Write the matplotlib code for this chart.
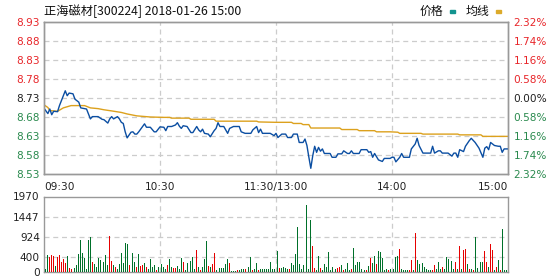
import matplotlib
matplotlib.use('Agg')
import matplotlib.pyplot as plt
from matplotlib.patches import Rectangle
import numpy as np

plt.rcParams['font.family'] = ['DejaVu Sans']

title_text = "正海磁材[300224] 2018-01-26 15:00"
legend_labels = ["价格", "均线"]
prev_close = 8.73
price_ticks = [8.53, 8.58, 8.63, 8.68, 8.73, 8.78, 8.83, 8.88, 8.93]
pct_labels = ["2.32%", "1.74%", "1.16%", "0.58%", "0.00%", "0.58%", "1.16%", "1.74%", "2.32%"]
time_ticks = [0, 60, 120, 180, 240]
time_labels = ["09:30", "10:30", "11:30/13:00", "14:00", "15:00"]
vol_ticks = [0, 400, 924, 1447, 1970]

# minute index (0 = 09:30, 240 = 15:00) and price
price_t = [0, 2, 3, 4, 5, 7, 8, 10, 11, 12, 13, 15, 16, 18, 19, 22, 23, 24, 25, 28,
           30, 31, 33, 34, 35, 36, 38, 39, 40, 41, 42, 43, 45, 46, 47, 48, 49, 50, 52, 53,
           55, 57, 58, 60, 62, 63, 64, 66, 68, 69, 70, 71, 72, 74, 76, 77, 79, 80, 81, 82,
           83, 85, 86, 88, 89, 90, 91, 93, 94, 95, 96, 98, 101, 102, 104, 107, 108, 110, 111, 112,
           113, 115, 117, 119, 120, 121, 123, 125, 126, 128, 129, 131, 132, 134, 135, 136, 137, 138, 139, 140,
           141, 142, 143, 144, 145, 148, 149, 151, 152, 154, 155, 157, 158, 159, 160, 163, 164, 167, 168, 169,
           170, 171, 173, 175, 176, 179, 180, 181, 182, 184, 185, 186, 189, 190, 192, 193, 194, 196, 200, 201,
           202, 204, 205, 206, 209, 211, 212, 213, 214, 215, 217, 218, 220, 221, 223, 225, 227, 228, 229, 230,
           231, 233, 235, 236, 237, 238, 240]
price_v = [8.703, 8.689, 8.701, 8.686, 8.695, 8.694, 8.710, 8.736, 8.749, 8.736, 8.743, 8.741, 8.727, 8.719, 8.704, 8.701, 8.688, 8.675, 8.681, 8.681,
           8.674, 8.673, 8.664, 8.675, 8.681, 8.675, 8.681, 8.675, 8.666, 8.663, 8.641, 8.625, 8.640, 8.641, 8.635, 8.635, 8.641, 8.648, 8.662, 8.653,
           8.653, 8.641, 8.641, 8.654, 8.653, 8.644, 8.655, 8.655, 8.659, 8.665, 8.656, 8.650, 8.657, 8.655, 8.639, 8.639, 8.655, 8.646, 8.641, 8.648,
           8.637, 8.635, 8.628, 8.644, 8.650, 8.665, 8.655, 8.655, 8.646, 8.637, 8.650, 8.655, 8.655, 8.641, 8.637, 8.637, 8.646, 8.655, 8.639, 8.648,
           8.637, 8.637, 8.637, 8.631, 8.637, 8.626, 8.635, 8.635, 8.626, 8.626, 8.635, 8.635, 8.613, 8.613, 8.622, 8.605, 8.574, 8.545, 8.578, 8.603,
           8.587, 8.600, 8.590, 8.596, 8.584, 8.584, 8.574, 8.574, 8.583, 8.583, 8.591, 8.584, 8.584, 8.591, 8.584, 8.584, 8.594, 8.594, 8.587, 8.589,
           8.574, 8.584, 8.567, 8.563, 8.571, 8.571, 8.574, 8.574, 8.562, 8.574, 8.584, 8.574, 8.574, 8.596, 8.609, 8.624, 8.605, 8.585, 8.585, 8.603,
           8.585, 8.591, 8.591, 8.585, 8.585, 8.577, 8.585, 8.585, 8.574, 8.594, 8.589, 8.603, 8.618, 8.624, 8.613, 8.598, 8.574, 8.598, 8.602, 8.594,
           8.613, 8.605, 8.603, 8.603, 8.587, 8.596, 8.596]

avg_t = [0, 2, 3, 7, 10, 14, 21, 24, 28, 31, 35, 40, 43, 48, 55, 62, 65, 66, 75, 76,
         88, 89, 110, 111, 120, 128, 129, 133, 134, 137, 138, 153, 154, 162, 163, 171, 172, 179, 183, 184,
         195, 196, 214, 215, 226, 227, 240]
avg_v = [8.712, 8.705, 8.697, 8.695, 8.704, 8.710, 8.710, 8.704, 8.702, 8.699, 8.696, 8.692, 8.688, 8.683, 8.680, 8.679, 8.679, 8.677, 8.677, 8.674,
         8.674, 8.669, 8.669, 8.667, 8.666, 8.666, 8.663, 8.663, 8.660, 8.660, 8.651, 8.651, 8.647, 8.647, 8.644, 8.644, 8.641, 8.641, 8.640, 8.637,
         8.637, 8.635, 8.635, 8.633, 8.633, 8.629, 8.629]

# per-minute volume (lots) and direction (r = up, g = down)
vol_am = [445, 78, 445, 401, 445, 427, 157, 384, 445, 270, 331, 227, 419, 113, 87, 209, 113, 183, 471, 837,
          506, 366, 87, 837, 907, 270, 209, 122, 366, 314, 288, 262, 445, 183, 942, 288, 192, 122, 70, 201,
          497, 227, 759, 732, 174, 279, 488, 270, 140, 471, 148, 183, 227, 140, 87, 331, 140, 183, 61, 140,
          166, 209, 140, 87, 183, 331, 140, 113, 96, 166, 87, 366, 262, 52, 244, 174, 279, 384, 87, 576,
          122, 61, 140, 340, 811, 157, 140, 209, 488, 52, 140, 113, 113, 96, 201, 331, 227, 35, 35, 35,
          61, 52, 87, 78, 70, 70, 140, 384, 44, 87, 244, 52, 87, 70, 70, 70, 87, 270, 70, 70,
          52, 549]
vol_pm = [106, 106, 124, 115, 88, 79, 230, 185, 477, 1183, 212, 88, 185, 442, 1748, 71, 1351, 689, 106, 53,
          424, 106, 53, 203, 141, 530, 53, 124, 168, 71, 106, 124, 185, 53, 88, 247, 53, 79, 636, 185,
          265, 265, 88, 71, 53, 53, 159, 371, 230, 424, 212, 556, 521, 353, 53, 88, 53, 88, 442, 79,
          389, 406, 600, 71, 53, 53, 53, 53, 318, 53, 1007, 318, 212, 177, 230, 141, 88, 53, 53, 53,
          177, 88, 265, 88, 124, 71, 389, 336, 88, 283, 71, 265, 71, 689, 88, 565, 600, 212, 88, 71,
          53, 918, 106, 653, 265, 265, 547, 265, 132, 742, 583, 53, 141, 318, 53, 1130, 53, 53, 1219]
dir_am = ("gggrrrgrrr" "rrgrrggggg" "gggggrgggg" "rgggrrgrgg" "ggggrgggrg" "rrgrggggrg"
          "ggggrggrrg" "ggrggggggr" "grgggrgrrg" "rgggggrggg" "rgggrrggrg" "grgggggggg" "gg")
dir_pm = ("rggggrgggg" "gggggggrrg" "grgggggggg" "rrgrgggrgg" "gggggrgrgg" "rgggggrggg"
          "ggrggggrrg" "rggggggggr" "rgggrgggrg" "grgrgrrgrg" "rgggggrrgr" "rgrgrgggg")
vol_values = vol_am + vol_pm
vol_dir = dir_am + dir_pm

red = '#e60000'
green = '#00702a'
up_txt = '#e8262a'
dn_txt = '#2a8a4e'
grid_c = '#cccccc'
spine_c = '#999999'

fig = plt.figure(figsize=(5.6, 2.8), dpi=100)
fig.patch.set_facecolor('white')
W, H = 560.0, 280.0
ax = fig.add_axes([44 / W, (H - 174) / H, 464 / W, 152 / H])
axv = fig.add_axes([44 / W, (H - 272) / H, 464 / W, 75.5 / H])

# price panel
ax.plot(price_t, price_v, color='#0b4ea2', lw=1.0, zorder=3)
ax.plot(avg_t, avg_v, color='#dca11d', lw=1.0, zorder=2)
ax.set_xlim(0, 240)
ax.set_ylim(price_ticks[0], price_ticks[-1])
for p in price_ticks[1:-1]:
    ax.axhline(p, color=grid_c, lw=0.9, ls=(0, (4, 3)), zorder=1)
for t in time_ticks[1:-1]:
    ax.axvline(t, color=grid_c, lw=0.9, ls=(0, (4, 3)), zorder=1)
ax.set_yticks(price_ticks)
ax.set_yticklabels([f"{p:.2f}" for p in price_ticks], fontsize=7.6)
for lab, p in zip(ax.get_yticklabels(), price_ticks):
    lab.set_color(up_txt if p > prev_close + 1e-9 else (dn_txt if p < prev_close - 1e-9 else '#222222'))
ax.tick_params(axis='y', length=0, pad=3)
ax.set_xticks(time_ticks)
ax.set_xticklabels(time_labels, fontsize=7.6, color='#222222')
ax.tick_params(axis='x', length=0, pad=6)
xl = ax.get_xticklabels()
xl[0].set_ha('left')
xl[-1].set_ha('right')

ax2 = ax.twinx()
ax2.set_ylim(price_ticks[0], price_ticks[-1])
ax2.set_yticks(price_ticks)
ax2.set_yticklabels(pct_labels, fontsize=7.6)
for lab, p in zip(ax2.get_yticklabels(), price_ticks):
    lab.set_color(up_txt if p > prev_close + 1e-9 else (dn_txt if p < prev_close - 1e-9 else '#222222'))
ax2.tick_params(axis='y', length=0, pad=4)

for a in (ax, ax2, axv):
    for s in a.spines.values():
        s.set_color(spine_c)
        s.set_linewidth(1.0)

# volume panel
idx = np.arange(len(vol_values))
colors = [red if c == 'r' else green for c in vol_dir]
axv.bar(idx, vol_values, width=0.5, color=colors, linewidth=0, antialiased=False, zorder=3)
axv.set_xlim(0, 240)
axv.set_ylim(vol_ticks[0], vol_ticks[-1])
for v in vol_ticks[1:-1]:
    axv.axhline(v, color=grid_c, lw=0.9, ls=(0, (4, 3)), zorder=1)
for t in time_ticks[1:-1]:
    axv.axvline(t, color=grid_c, lw=0.9, ls=(0, (4, 3)), zorder=1)
axv.set_yticks(vol_ticks)
axv.set_yticklabels([str(v) for v in vol_ticks], fontsize=7.6, color='#222222')
axv.tick_params(axis='y', length=0, pad=3)
axv.set_xticks([])

# title and legend
cjk = ['Noto Sans CJK SC', 'DejaVu Sans']
fig.text(44 / W, 1 - 11 / H, title_text, family=cjk, fontsize=8.8, va='center', ha='left', color='#111111')
fig.text(420 / W, 1 - 11 / H, legend_labels[0], family=cjk, fontsize=8.6, va='center', ha='left', color='#111111')
fig.text(466 / W, 1 - 11 / H, legend_labels[1], family=cjk, fontsize=8.6, va='center', ha='left', color='#111111')
fig.patches.append(Rectangle((450 / W, 1 - 13 / H), 5 / W, 3 / H, transform=fig.transFigure, color='#13948f'))
fig.patches.append(Rectangle((496 / W, 1 - 13 / H), 5 / W, 3 / H, transform=fig.transFigure, color='#dcaa2a'))

fig.savefig('out.png', dpi=100)
